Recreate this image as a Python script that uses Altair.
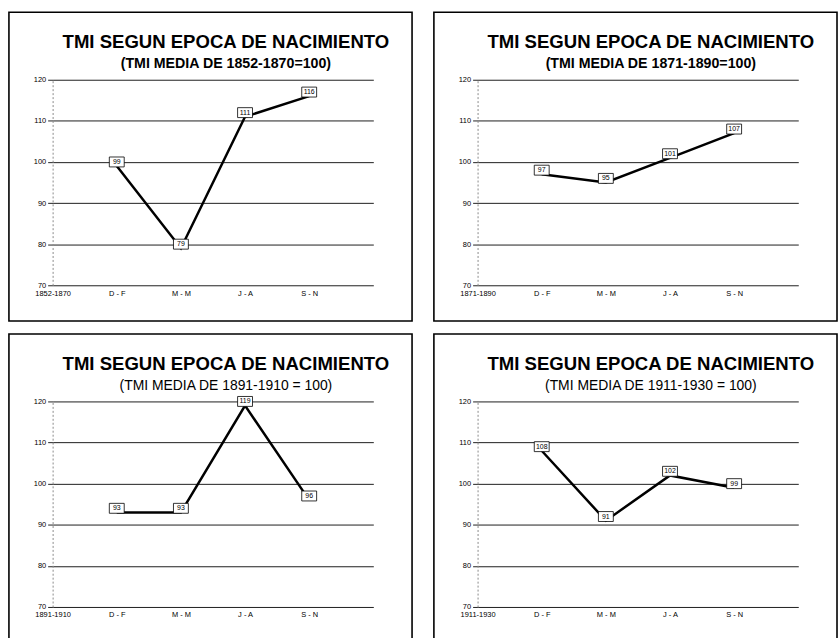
import altair as alt
import pandas as pd

# Infant mortality index (TMI) by season of birth, four birth cohorts
title_text = "TMI SEGUN EPOCA DE NACIMIENTO"
periods = ["1852-1870", "1871-1890", "1891-1910", "1911-1930"]
seasons = ["D - F", "M - M", "J - A", "S - N"]
tmi_1852_1870 = [99, 79, 111, 116]
tmi_1871_1890 = [97, 95, 101, 107]
tmi_1891_1910 = [93, 93, 119, 96]
tmi_1911_1930 = [108, 91, 102, 99]
subtitles = [
    "(TMI MEDIA DE 1852-1870=100)",
    "(TMI MEDIA DE 1871-1890=100)",
    "(TMI MEDIA DE 1891-1910 = 100)",
    "(TMI MEDIA DE 1911-1930 = 100)",
]
y_ticks = [70, 80, 90, 100, 110, 120]

W, H = 323, 207
FONT = "Liberation Sans"


def panel(period, values, subtitle, bold_subtitle):
    df = pd.DataFrame({"epoca": seasons, "tmi": values})
    df["etiqueta"] = df["tmi"].astype(str)

    x_enc = alt.X(
        "epoca:N",
        scale=alt.Scale(type="point", domain=[period] + seasons + [" "], padding=0),
        axis=alt.Axis(
            title=None, labelAngle=0, grid=False, domain=False, ticks=False,
            labelFontSize=7.5, labelFont=FONT, labelColor="black", labelPadding=4,
        ),
    )
    y_axis = alt.Axis(
        title=None, values=y_ticks, grid=True, gridColor="#1e1e1e", gridWidth=1,
        domainColor="#8a8a8a", domainDash=[2, 2], domainWidth=1,
        tickColor="#222", tickSize=5, tickWidth=1,
        labelFontSize=7.5, labelFont=FONT, labelColor="black", labelPadding=2,
    )
    y_scale = alt.Scale(domain=[70, 120], nice=False, zero=False)

    base = alt.Chart(df)

    # outer box around each panel, title included
    frame = base.transform_filter("datum.epoca == 'D - F'").mark_rect(
        fillOpacity=0, stroke="black", strokeWidth=1.6
    ).encode(
        x=alt.value(-44), x2=alt.value(W + 39),
        y=alt.value(-68), y2=alt.value(H + 36),
    )

    line = base.mark_line(color="black", strokeWidth=2.5).encode(
        x=x_enc, y=alt.Y("tmi:Q", scale=y_scale, axis=y_axis)
    )

    lab = base.transform_calculate(ly="datum.tmi + 1")
    boxes = lab.mark_rect(
        width=15, height=10, fill="white", stroke="black", strokeWidth=0.8
    ).encode(x=x_enc, y=alt.Y("ly:Q", scale=y_scale, axis=y_axis))
    texts = lab.mark_text(
        fontSize=7, font=FONT, color="black", baseline="middle", align="center"
    ).encode(
        x=x_enc, y=alt.Y("ly:Q", scale=y_scale, axis=y_axis), text="etiqueta:N"
    )

    return alt.layer(frame, line, boxes, texts).properties(
        width=W,
        height=H,
        title=alt.TitleParams(
            text=title_text,
            subtitle=subtitle,
            font=FONT,
            fontSize=18.7,
            fontWeight="bold",
            color="black",
            subtitleFont=FONT,
            subtitleFontSize=14.3 if bold_subtitle else 14,
            subtitleFontWeight="bold" if bold_subtitle else "normal",
            subtitleColor="black",
            subtitlePadding=5,
            anchor="middle",
            frame="group",
            dx=13,
            offset=-60,
        ),
    )


panels = [
    panel(periods[0], tmi_1852_1870, subtitles[0], True),
    panel(periods[1], tmi_1871_1890, subtitles[1], True),
    panel(periods[2], tmi_1891_1910, subtitles[2], False),
    panel(periods[3], tmi_1911_1930, subtitles[3], False),
]

chart = alt.concat(
    *panels, columns=2, spacing={"row": 117, "column": 105}, bounds="flush"
).properties(
    padding={"left": 8, "top": 9, "right": 0, "bottom": 0},
    background="white",
).configure_view(stroke=None)

chart.save("out.html", embed_options={"renderer": "svg", "actions": False})
